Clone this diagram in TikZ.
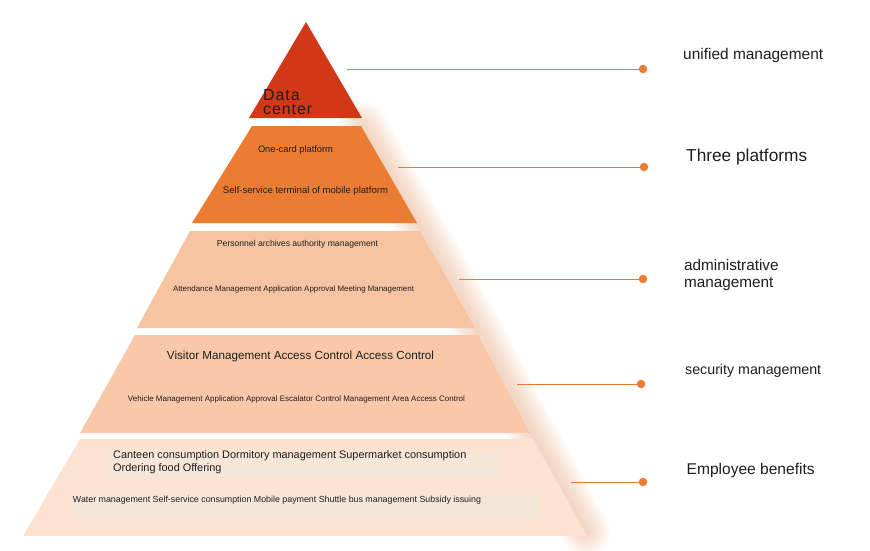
\documentclass[tikz,border=0pt]{standalone}
\usepackage{graphicx}
\usepackage{fontspec}
\setmainfont{Liberation Sans}
\newfontfamily\dcfnt[LetterSpace=6]{Liberation Sans}
\definecolor{tieronec}{HTML}{D03818}
\definecolor{tiertwoc}{HTML}{EB7C34}
\definecolor{tierthreec}{HTML}{F6C4A1}
\definecolor{tierfourc}{HTML}{F8C8A8}
\definecolor{tierfivec}{HTML}{FCE3D1}
\definecolor{glowc}{HTML}{F0A070}
\definecolor{linec}{HTML}{E27A35}
\definecolor{dotc}{HTML}{EC7B33}
\definecolor{txtc}{HTML}{1E1E1E}
\definecolor{patchc}{HTML}{F5E6DA}
\newcommand{\fitw}[2]{\resizebox{#1pt}{!}{#2}}
\begin{document}
\begin{tikzpicture}[x=1pt,y=-1pt,
  lbl/.style={inner sep=0pt, text=txtc, anchor=center},
  side/.style={inner sep=0pt, text=txtc, anchor=west},
  dotnode/.style={circle, fill=dotc, inner sep=0pt, minimum size=8.5pt},
  conn/.style={draw=linec, line width=1pt}]
\useasboundingbox[fill=white] (0,0) rectangle (870,550);

% soft glow along the right side of the pyramid
\foreach \w in {4,8,...,48}{%
  \draw[line width=\w pt, draw=glowc, opacity=0.04, line cap=round, line join=round]
    (363,126) -- (421,228) -- (479,332) -- (534,436) -- (586,532);}

% tiers
\fill[tieronec] (306,22) -- (362,118) -- (249,118) -- cycle;
\fill[tiertwoc] (252,126) -- (361,126) -- (417,223) -- (192,223) -- cycle;
\fill[tierthreec] (190,231) -- (420,231) -- (475,328) -- (137,328) -- cycle;
\fill[tierfourc] (135,335) -- (478,335) -- (530,433) -- (80,433) -- cycle;
\fill[tierfivec] (80,439) -- (533,439) -- (587,536) -- (23,536) -- cycle;

% faint patches behind tier-5 texts
\fill[patchc] (111,452) rectangle (497,477);
\fill[patchc] (72,495) rectangle (540,520);

% texts inside the pyramid
\node[side, anchor=west] (dc) at (263,104) {\fitw{49}{\dcfnt\begin{tabular}{@{}l@{}}Data\\[-3pt]center\end{tabular}}};
\node[lbl] (t2a) at (295.5,150) {\fitw{75}{One-card platform}};
\node[lbl] (t2b) at (305.5,191) {\fitw{165}{Self-service terminal of mobile platform}};
\node[lbl] (t3a) at (297.5,244) {\fitw{161}{Personnel archives authority management}};
\node[lbl] (t3b) at (293.5,289) {\fitw{241}{Attendance Management Application Approval Meeting Management}};
\node[lbl] (t4a) at (300.5,356) {\fitw{267}{Visitor Management Access Control Access Control}};
\node[lbl] (t4b) at (296.5,399) {\fitw{337}{Vehicle Management Application Approval Escalator Control Management Area Access Control}};
\node[side, anchor=north west, align=left, font=\fontsize{10.9}{13}\selectfont] (t5a) at (113,450.5) {Canteen consumption Dormitory management Supermarket consumption\\Ordering food Offering};
\node[lbl] (t5b) at (277,500) {\fitw{408}{Water management Self-service consumption Mobile payment Shuttle bus management Subsidy issuing}};

% right labels
\node[side] (r1) at (683,56) {\fitw{140}{unified management}};
\node[side] (r2) at (686,157) {\fitw{121}{Three platforms}};
\node[side, align=left, font=\fontsize{15.3}{17}\selectfont] (r3) at (684,275.5) {administrative\\management};
\node[side] (r4) at (685,371) {\fitw{136}{security management}};
\node[side] (r5) at (686.5,470) {\fitw{128}{Employee benefits}};

% connectors
\node[dotnode] (d1) at (643,69) {};
\node[dotnode] (d2) at (644,167) {};
\node[dotnode] (d3) at (643,279) {};
\node[dotnode] (d4) at (641,384) {};
\node[dotnode] (d5) at (643,482) {};
\coordinate (s1) at (347,69);
\coordinate (s2) at (398,167);
\coordinate (s3) at (459,279);
\coordinate (s4) at (517,384);
\coordinate (s5) at (571,482);
\draw[conn] (s1) -- (d1);
\draw[conn] (s2) -- (d2);
\draw[conn] (s3) -- (d3);
\draw[conn] (s4) -- (d4);
\draw[conn] (s5) -- (d5);
\end{tikzpicture}
\end{document}
